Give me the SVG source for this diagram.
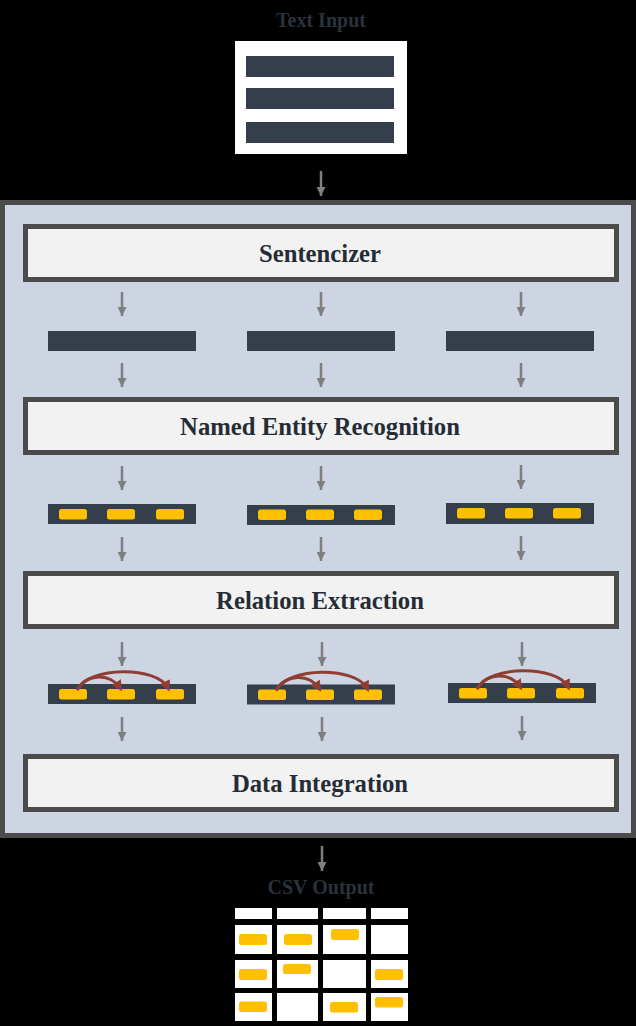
<svg xmlns="http://www.w3.org/2000/svg" width="636" height="1026" viewBox="0 0 636 1026">
<defs>
<style>
.title{font-family:"Liberation Serif","Times New Roman",serif;font-weight:bold;font-size:20px;fill:#2a323c;text-anchor:middle}
.lbl{font-family:"Liberation Serif","Times New Roman",serif;font-weight:bold;font-size:24.7px;fill:#262c35;text-anchor:middle}
.stage{fill:#f2f2f2;stroke:#4b4b4b;stroke-width:5}
.bar{fill:#343f4b}
.chip{fill:#ffc000}
.cell{fill:#ffffff}
.arr{stroke:#7f7f7f;stroke-width:2.5;fill:none;marker-end:url(#ah)}
.rel{stroke:#8e3e32;stroke-width:3;fill:none;marker-end:url(#rh)}
</style>
<marker id="ah" markerUnits="userSpaceOnUse" markerWidth="9" markerHeight="9" refX="9" refY="4.5" orient="auto">
<path d="M0,0 L9,4.5 L0,9 z" fill="#7f7f7f"/>
</marker>
<marker id="rh" markerUnits="userSpaceOnUse" markerWidth="11" markerHeight="11" refX="7" refY="5.5" orient="auto">
<path d="M0,0 L11,5.5 L0,11 z" fill="#8e3e32"/>
</marker>
</defs>
<rect x="0" y="0" width="636" height="1026" fill="#000000"/>

<g id="text-input">
<text class="title" x="321" y="27">Text Input</text>
<rect x="235" y="41" width="172" height="113" fill="#ffffff"/>
<rect class="bar" x="246" y="56" width="148" height="21"/>
<rect class="bar" x="246" y="88" width="148" height="21"/>
<rect class="bar" x="246" y="122" width="148" height="21"/>
</g>

<g id="pipeline">
<rect x="2.5" y="202.5" width="631" height="633" fill="#cdd5e2" stroke="#4b4b4b" stroke-width="5"/>
</g>

<g id="sentencizer">
<rect class="stage" x="25.5" y="226.5" width="591" height="53"/>
<text class="lbl" x="320" y="262">Sentencizer</text>
</g>

<g id="sentences">
<rect class="bar" x="48" y="331" width="148" height="20"/>
<rect class="bar" x="247" y="331" width="148" height="20"/>
<rect class="bar" x="446" y="331" width="148" height="20"/>
</g>

<g id="ner">
<rect class="stage" x="25.5" y="399.5" width="591" height="53"/>
<text class="lbl" x="320" y="435">Named Entity Recognition</text>
</g>

<g id="ner-sentences">
<rect class="bar" x="48" y="504" width="148" height="20"/>
<rect class="chip" x="59" y="509" width="28" height="10.5" rx="2.5"/>
<rect class="chip" x="107" y="509" width="28" height="10.5" rx="2.5"/>
<rect class="chip" x="156" y="509" width="28" height="10.5" rx="2.5"/>
<rect class="bar" x="247" y="505" width="148" height="20"/>
<rect class="chip" x="258" y="509.5" width="28" height="10.5" rx="2.5"/>
<rect class="chip" x="306" y="509.5" width="28" height="10.5" rx="2.5"/>
<rect class="chip" x="354" y="509.5" width="28" height="10.5" rx="2.5"/>
<rect class="bar" x="446" y="503" width="148" height="21"/>
<rect class="chip" x="457" y="508" width="28" height="10.5" rx="2.5"/>
<rect class="chip" x="505" y="508" width="28" height="10.5" rx="2.5"/>
<rect class="chip" x="553" y="508" width="28" height="10.5" rx="2.5"/>
</g>

<g id="relation-extraction">
<rect class="stage" x="25.5" y="573.5" width="591" height="53"/>
<text class="lbl" x="320" y="609">Relation Extraction</text>
</g>

<g id="re-sentences">
<rect class="bar" x="48" y="684" width="148" height="20"/>
<rect class="chip" x="59" y="689" width="28" height="10.5" rx="2.5"/>
<rect class="chip" x="107" y="689" width="28" height="10.5" rx="2.5"/>
<rect class="chip" x="156" y="689" width="28" height="10.5" rx="2.5"/>
<rect class="bar" x="247" y="684.5" width="148" height="20"/>
<rect class="chip" x="258" y="689.5" width="28" height="10.5" rx="2.5"/>
<rect class="chip" x="306" y="689.5" width="28" height="10.5" rx="2.5"/>
<rect class="chip" x="354" y="689.5" width="28" height="10.5" rx="2.5"/>
<rect class="bar" x="448" y="683" width="148" height="20"/>
<rect class="chip" x="459" y="688" width="28" height="10.5" rx="2.5"/>
<rect class="chip" x="507" y="688" width="28" height="10.5" rx="2.5"/>
<rect class="chip" x="556" y="688" width="28" height="10.5" rx="2.5"/>
</g>

<g id="data-integration">
<rect class="stage" x="25.5" y="756.5" width="591" height="53"/>
<text class="lbl" x="320" y="792">Data Integration</text>
</g>

<g id="csv-output">
<text class="title" x="321" y="894">CSV Output</text>
<rect class="cell" x="235" y="908" width="37" height="11"/>
<rect class="cell" x="277" y="908" width="41" height="11"/>
<rect class="cell" x="323" y="908" width="43" height="11"/>
<rect class="cell" x="371" y="908" width="37" height="11"/>
<rect class="cell" x="235" y="925" width="37" height="29"/>
<rect class="cell" x="277" y="925" width="41" height="29"/>
<rect class="cell" x="323" y="925" width="43" height="29"/>
<rect class="cell" x="371" y="925" width="37" height="29"/>
<rect class="cell" x="235" y="960" width="37" height="28"/>
<rect class="cell" x="277" y="960" width="41" height="28"/>
<rect class="cell" x="323" y="960" width="43" height="28"/>
<rect class="cell" x="371" y="960" width="37" height="28"/>
<rect class="cell" x="235" y="993" width="37" height="28"/>
<rect class="cell" x="277" y="993" width="41" height="28"/>
<rect class="cell" x="323" y="993" width="43" height="28"/>
<rect class="cell" x="371" y="993" width="37" height="28"/>
<rect class="chip" x="239" y="934" width="28" height="11" rx="2.5"/>
<rect class="chip" x="284" y="934" width="28" height="11" rx="2.5"/>
<rect class="chip" x="331" y="929" width="28" height="11" rx="2.5"/>
<rect class="chip" x="239" y="969" width="28" height="11" rx="2.5"/>
<rect class="chip" x="283" y="964" width="28" height="10" rx="2.5"/>
<rect class="chip" x="375" y="969" width="28" height="11" rx="2.5"/>
<rect class="chip" x="239" y="1001.5" width="28" height="10.5" rx="2.5"/>
<rect class="chip" x="330" y="1002" width="28" height="10.5" rx="2.5"/>
<rect class="chip" x="375" y="997" width="28" height="10.5" rx="2.5"/>
</g>

<g id="connectors">
<line class="arr" x1="321" y1="171" x2="321" y2="196"/>
<line class="arr" x1="122" y1="292" x2="122" y2="316"/>
<line class="arr" x1="321" y1="292" x2="321" y2="316"/>
<line class="arr" x1="521" y1="292" x2="521" y2="316"/>
<line class="arr" x1="122" y1="363" x2="122" y2="387"/>
<line class="arr" x1="321" y1="363" x2="321" y2="387"/>
<line class="arr" x1="521" y1="363" x2="521" y2="387"/>
<line class="arr" x1="122" y1="466" x2="122" y2="490"/>
<line class="arr" x1="321" y1="466" x2="321" y2="490"/>
<line class="arr" x1="521" y1="465" x2="521" y2="489"/>
<line class="arr" x1="122" y1="537" x2="122" y2="561"/>
<line class="arr" x1="321" y1="537" x2="321" y2="561"/>
<line class="arr" x1="521" y1="536" x2="521" y2="560"/>
<line class="arr" x1="122" y1="642" x2="122" y2="666"/>
<line class="arr" x1="322" y1="642" x2="322" y2="666"/>
<line class="arr" x1="522" y1="642" x2="522" y2="666"/>
<line class="arr" x1="122" y1="717" x2="122" y2="741"/>
<line class="arr" x1="322" y1="717" x2="322" y2="741"/>
<line class="arr" x1="522" y1="716" x2="522" y2="740"/>
<line class="arr" x1="322" y1="846" x2="322" y2="871"/>
<path class="rel" d="M77,690 C87,673 110,673 120,688"/>
<path class="rel" d="M77,690 C89,666 157,666 168,688"/>
<path class="rel" d="M276,690.5 C286,673.5 309,673.5 319,688.5"/>
<path class="rel" d="M276,690.5 C288,666.5 356,666.5 367,688.5"/>
<path class="rel" d="M477,689 C487,672 510,672 520,687"/>
<path class="rel" d="M477,689 C489,665 557,665 568,687"/>
</g>
</svg>
